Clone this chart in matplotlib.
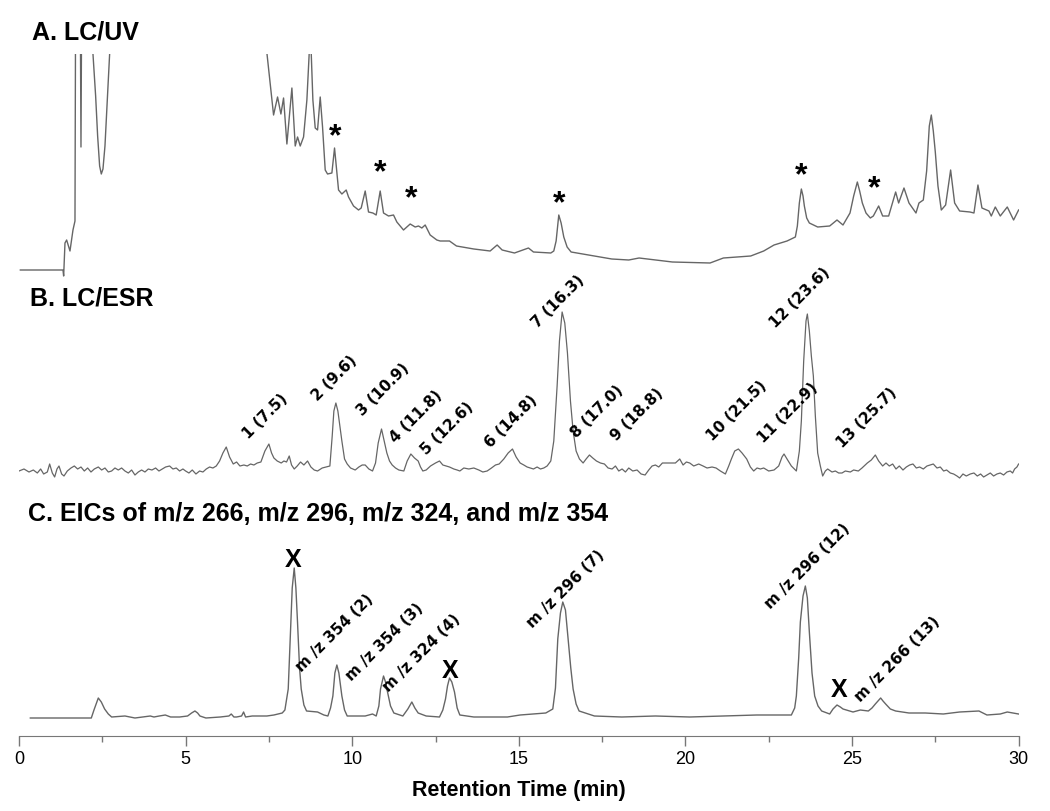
import matplotlib.pyplot as plt
from matplotlib.ticker import MultipleLocator

# --- traces (retention time in min, relative signal) ---
uv_time = [0.04, 1.32, 1.34, 1.38, 1.43, 1.53, 1.62, 1.68, 1.71, 1.82, 1.86, 1.90,
           2.20, 2.22, 2.30, 2.36, 2.42, 2.47, 2.52, 2.58, 2.65, 2.72, 2.74,
           7.40, 7.44, 7.64, 7.76, 7.86, 7.94, 8.04, 8.19, 8.29, 8.36, 8.44, 8.54,
           8.64, 8.71, 8.73, 8.76, 8.77, 8.82, 8.89, 8.96, 9.04, 9.11, 9.19, 9.26,
           9.39, 9.47, 9.54, 9.59, 9.69, 9.82, 9.89, 10.04, 10.19, 10.27, 10.39,
           10.49, 10.62, 10.72, 10.84, 10.94, 11.09, 11.24, 11.34, 11.54, 11.74,
           11.89, 11.99, 12.09, 12.19, 12.34, 12.54, 12.64, 12.92, 13.13, 13.65,
           14.14, 14.35, 14.50, 14.87, 15.29, 15.44, 15.96, 16.05, 16.12, 16.20,
           16.27, 16.35, 16.45, 16.57, 17.09, 17.79, 18.30, 18.61, 19.61, 20.74,
           21.14, 21.96, 22.35, 22.66, 23.05, 23.30, 23.36, 23.42, 23.48, 23.53,
           23.57, 23.64, 23.72, 23.97, 24.33, 24.55, 24.73, 24.94, 25.05, 25.16,
           25.23, 25.31, 25.42, 25.55, 25.64, 25.80, 25.92, 26.10, 26.31, 26.40,
           26.56, 26.71, 26.92, 27.01, 27.14, 27.24, 27.32, 27.38, 27.44, 27.50,
           27.58, 27.68, 27.81, 27.96, 28.08, 28.23, 28.54, 28.66, 28.78, 28.90,
           29.11, 29.18, 29.30, 29.45, 29.66, 29.85, 29.91, 30.00]
uv_signal = [1, 1, -5, 28, 31, 20, 41, 50, 400, 400, 124, 400,
             400, 217, 175, 135, 105, 97, 102, 125, 170, 217, 400,
             400, 218, 156, 174, 157, 173, 127, 183, 125, 134, 125, 134,
             171, 218, 400, 400, 218, 171, 143, 141, 174, 144, 101, 97,
             98, 123, 99, 81, 77, 81, 74, 65, 61, 63, 80,
             59, 58, 56, 80, 58, 55, 56, 49, 41, 47,
             44, 45, 43, 46, 36, 31, 30, 30, 25, 22,
             20, 26, 21, 18, 23, 19, 18, 20, 30, 56,
             48, 34, 24, 19, 16, 12, 11, 13, 9, 8,
             13, 15, 20, 26, 30, 34, 45, 68, 82, 75,
             65, 53, 48, 44, 45, 51, 46, 58, 75, 89,
             80, 68, 58, 53, 55, 65, 55, 55, 79, 68,
             83, 68, 58, 68, 71, 100, 145, 156, 140, 119,
             85, 61, 66, 101, 68, 60, 59, 58, 86, 63,
             60, 55, 64, 55, 64, 51, 55, 61]

esr_time = [0.00, 0.15, 0.30, 0.43, 0.55, 0.65, 0.74, 0.85, 0.92, 1.00, 1.07, 1.14,
            1.20, 1.28, 1.35, 1.45, 1.56, 1.66, 1.76, 1.86, 1.96, 2.06, 2.16, 2.26,
            2.38, 2.48, 2.58, 2.68, 2.78, 2.88, 2.98, 3.08, 3.18, 3.28, 3.38, 3.48,
            3.58, 3.68, 3.78, 3.88, 3.99, 4.10, 4.20, 4.30, 4.40, 4.52, 4.62, 4.72,
            4.82, 4.92, 5.00, 5.10, 5.20, 5.31, 5.42, 5.52, 5.62, 5.72, 5.82, 5.92,
            6.02, 6.12, 6.22, 6.32, 6.43, 6.53, 6.63, 6.75, 6.85, 6.95, 7.05, 7.15,
            7.26, 7.38, 7.50, 7.58, 7.65, 7.75, 7.87, 7.95, 8.03, 8.11, 8.18, 8.26,
            8.35, 8.45, 8.55, 8.66, 8.76, 8.86, 8.96, 9.10, 9.22, 9.33, 9.40, 9.45,
            9.51, 9.57, 9.63, 9.69, 9.77, 9.85, 9.95, 10.09, 10.20, 10.30, 10.39,
            10.50, 10.61, 10.70, 10.78, 10.88, 10.96, 11.04, 11.12, 11.20, 11.30,
            11.40, 11.55, 11.65, 11.76, 11.87, 11.98, 12.05, 12.12, 12.22, 12.35,
            12.50, 12.62, 12.72, 12.82, 12.92, 13.05, 13.15, 13.23, 13.35, 13.50,
            13.65, 13.80, 13.92, 14.05, 14.18, 14.30, 14.41, 14.55, 14.68, 14.81,
            14.92, 15.04, 15.15, 15.25, 15.35, 15.44, 15.55, 15.65, 15.75, 15.85,
            15.96, 16.05, 16.15, 16.22, 16.30, 16.38, 16.46, 16.55, 16.63, 16.72,
            16.82, 16.93, 17.02, 17.12, 17.22, 17.33, 17.45, 17.57, 17.68, 17.80,
            17.90, 18.00, 18.10, 18.20, 18.30, 18.42, 18.55, 18.67, 18.79, 18.90,
            19.00, 19.10, 19.20, 19.31, 19.45, 19.60, 19.70, 19.83, 19.93, 20.03,
            20.13, 20.25, 20.40, 20.53, 20.65, 20.80, 20.92, 21.05, 21.20, 21.30,
            21.38, 21.48, 21.59, 21.70, 21.84, 21.95, 22.05, 22.15, 22.25, 22.35,
            22.50, 22.66, 22.80, 22.90, 22.96, 23.05, 23.18, 23.27, 23.33, 23.42,
            23.48, 23.55, 23.62, 23.66, 23.72, 23.78, 23.84, 23.90, 23.97, 24.05,
            24.12, 24.20, 24.27, 24.40, 24.50, 24.60, 24.70, 24.80, 24.95, 25.05,
            25.19, 25.30, 25.46, 25.58, 25.70, 25.80, 25.92, 26.02, 26.12, 26.22,
            26.32, 26.42, 26.53, 26.63, 26.73, 26.83, 26.93, 27.03, 27.14, 27.25,
            27.35, 27.44, 27.55, 27.65, 27.75, 27.84, 27.95, 28.05, 28.15, 28.23,
            28.33, 28.43, 28.55, 28.66, 28.76, 28.86, 28.95, 29.05, 29.15, 29.25,
            29.35, 29.45, 29.55, 29.65, 29.75, 29.82, 29.88, 29.95, 30.00]
esr_signal = [0, 2, -1, 1, -2, 2, -3, -1, 7, -2, -6, 2,
              5, -3, -5, 0, 3, 5, 2, 4, 0, 3, -1, 2,
              4, 1, 3, -1, 0, 3, 1, 3, 0, -2, 1, -4,
              -1, 1, -1, 2, 1, 3, 0, 2, 4, 5, 2, 3,
              0, 2, 0, -2, 1, -3, 0, -1, 2, 4, 3, 5,
              10, 18, 24, 14, 7, 9, 5, 6, 5, 7, 6, 8,
              9, 20, 27, 18, 13, 10, 8, 10, 9, 15, 6, 2,
              5, 9, 6, 10, 4, 1, 0, 3, 4, 5, 35, 60,
              68, 60, 45, 30, 12, 7, 3, 1, 4, 6, 6,
              2, 0, 8, 28, 42, 30, 18, 10, 6, 3,
              1, 0, 10, 17, 13, 10, 4, 0, 1, 5,
              8, 10, 6, 5, 4, 2, 1, 0, 3, 2,
              3, 1, -1, 0, 3, 6, 7, 12, 18, 22,
              14, 8, 6, 4, 3, 2, 4, 2, 3, 5,
              10, 30, 85, 130, 159, 148, 118, 70, 40, 20,
              12, 8, 12, 16, 13, 10, 8, 7, 3, 2,
              5, 0, 2, -1, 3, 0, 1, -3, -4, 1,
              5, 6, 4, 8, 8, 8, 8, 12, 6, 9,
              8, 5, 7, 5, 3, 4, 3, 0, -3, 5,
              12, 20, 22, 18, 12, 4, 0, 3, 2, 3,
              0, 1, 5, 14, 17, 12, 5, 2, 0, 20,
              50, 110, 150, 157, 140, 115, 95, 55, 18, 5,
              -5, 0, 2, -1, 0, -2, -2, 0, -1, 1,
              0, 3, 8, 11, 16, 10, 5, 8, 5, 7,
              2, 5, 1, 4, 6, 7, 3, 4, 2, 5,
              6, 7, 3, 4, 0, 1, -2, -3, -5, -7,
              -3, -5, -3, -2, -5, -3, -6, -4, -2, -5,
              -3, -2, -4, -1, 0, -2, 2, 4, 7]

eic_time = [0.34, 2.17, 2.25, 2.38, 2.47, 2.57, 2.68, 2.78, 3.18, 3.48, 3.94, 4.05,
            4.21, 4.39, 4.55, 4.82, 5.06, 5.18, 5.28, 5.36, 5.43, 5.61, 6.04, 6.30,
            6.37, 6.45, 6.53, 6.68, 6.74, 6.80, 7.00, 7.44, 7.65, 7.90, 7.98, 8.08,
            8.13, 8.20, 8.26, 8.31, 8.36, 8.42, 8.47, 8.55, 8.63, 8.96, 9.15, 9.27,
            9.35, 9.42, 9.48, 9.54, 9.60, 9.69, 9.77, 9.85, 10.39, 10.61, 10.72,
            10.80, 10.85, 10.94, 11.00, 11.06, 11.15, 11.25, 11.52, 11.67, 11.79,
            11.88, 11.98, 12.22, 12.62, 12.72, 12.80, 12.86, 12.92, 12.99, 13.07,
            13.15, 13.23, 13.65, 14.66, 15.04, 15.81, 16.02, 16.10, 16.17, 16.25,
            16.32, 16.40, 16.48, 16.56, 16.63, 16.72, 16.81, 17.27, 18.09, 19.10,
            20.13, 22.14, 23.18, 23.28, 23.33, 23.40, 23.45, 23.53, 23.60, 23.66,
            23.72, 23.80, 23.88, 23.98, 24.09, 24.33, 24.43, 24.55, 24.65, 24.73,
            25.03, 25.25, 25.49, 25.60, 25.70, 25.86, 25.93, 26.01, 26.15, 26.31,
            26.71, 27.20, 27.74, 28.23, 28.81, 29.05, 29.45, 29.66, 30.00]
eic_signal = [0, 0, 8, 20, 16, 9, 4, 1, 2, 0, 2, 1,
              2, 3, 1, 1, 2, 5, 7, 5, 2, 0, 1, 2,
              4, 1, 1, 2, 6, 1, 2, 2, 3, 5, 8, 29,
              70, 130, 150, 130, 95, 50, 29, 13, 7, 6, 3, 2,
              10, 22, 45, 53, 45, 22, 8, 2, 2, 4, 2,
              12, 29, 42, 36, 26, 12, 5, 2, 9, 16,
              10, 5, 2, 1, 8, 19, 32, 40, 36, 26,
              10, 3, 1, 1, 3, 5, 9, 30, 79, 105,
              116, 108, 79, 50, 29, 14, 7, 2, 1, 2,
              1, 3, 3, 10, 22, 60, 96, 122, 132, 120,
              86, 45, 22, 12, 7, 4, 9, 13, 11, 9,
              6, 8, 7, 10, 14, 20, 17, 14, 9, 7,
              5, 5, 4, 6, 7, 3, 4, 6, 4]

# --- annotations ---
star_time = [9.49, 10.84, 11.77, 16.20, 23.48, 25.67]
star_height = [139, 103, 77, 72, 100, 87]

esr_labels = ['1 (7.5)', '2 (9.6)', '3 (10.9)', '4 (11.8)', '5 (12.6)', '6 (14.8)',
              '7 (16.3)', '8 (17.0)', '9 (18.8)', '10 (21.5)', '11 (22.9)',
              '12 (23.6)', '13 (25.7)']
esr_label_time = [6.89, 8.96, 10.30, 11.31, 12.22, 14.14, 15.56, 16.72, 17.94,
                  20.83, 22.35, 22.72, 24.73]
esr_label_height = [31, 69, 54, 27, 15, 22, 142, 32, 29, 29, 27, 142, 22]

eic_labels = ['m /z 354 (2)', 'm /z 354 (3)', 'm /z 324 (4)', 'm /z 296 (7)',
              'm /z 296 (12)', 'm /z 266 (13)']
eic_label_time = [8.49, 9.99, 11.09, 15.41, 22.57, 25.25]
eic_label_height = [45, 36, 25, 89, 108, 15]

x_time = [8.24, 12.94, 24.62]
x_height = [151, 40, 21]

W, H = 1050, 811
X0, X1 = 19, 1018.6
trace_color = '#666666'
title_font = dict(family='Liberation Sans', fontsize=18, fontweight='bold')
label_font = dict(family='DejaVu Sans', fontsize=11, fontweight='bold')

fig = plt.figure(figsize=(W / 100, H / 100), dpi=100)


def panel(top, bottom, base):
    ax = fig.add_axes([X0 / W, 1 - bottom / H, (X1 - X0) / W, (bottom - top) / H])
    ax.set_xlim(0, 30)
    ax.set_ylim(base - bottom, base - top)
    for s in ax.spines.values():
        s.set_visible(False)
    ax.set_xticks([])
    ax.set_yticks([])
    return ax


ax_a = panel(54, 280, 271)
ax_b = panel(300, 481, 471)
ax_c = panel(540, 736, 718)

ax_a.plot(uv_time, uv_signal, color=trace_color, lw=1.0)
ax_b.plot(esr_time, esr_signal, color=trace_color, lw=0.9)
ax_c.plot(eic_time, eic_signal, color=trace_color, lw=1.0)

# asterisks over the UV peaks that match ESR peaks
for t, h in zip(star_time, star_height):
    ax_a.annotate('*', (t, h), xytext=(0, -9.6), textcoords='offset points',
                  ha='center', va='baseline', family='Liberation Sans',
                  fontsize=23, fontweight='bold')

for s, t, h in zip(esr_labels, esr_label_time, esr_label_height):
    ax_b.text(t, h, s, rotation=45, rotation_mode='anchor', ha='left',
              va='baseline', **label_font)

for s, t, h in zip(eic_labels, eic_label_time, eic_label_height):
    ax_c.text(t, h, s, rotation=45, rotation_mode='anchor', ha='left',
              va='baseline', **label_font)

for t, h in zip(x_time, x_height):
    ax_c.text(t, h, 'X', ha='center', va='baseline', **title_font)

# bottom time axis
ax_c.spines['bottom'].set_visible(True)
ax_c.spines['bottom'].set_color('#777777')
ax_c.xaxis.set_major_locator(MultipleLocator(5))
ax_c.xaxis.set_minor_locator(MultipleLocator(2.5))
ax_c.tick_params(axis='x', which='major', direction='out', length=7, width=1,
                 color='#777777', pad=4, labelsize=13)
ax_c.tick_params(axis='x', which='minor', direction='out', length=4, width=1,
                 color='#777777')
for lab in ax_c.get_xticklabels():
    lab.set_family('Liberation Sans')

fig.text(32 / W, 1 - 40 / H, 'A. LC/UV', ha='left', va='baseline', **title_font)
fig.text(30 / W, 1 - 305 / H, 'B. LC/ESR', ha='left', va='baseline', **title_font)
fig.text(28 / W, 1 - 521 / H, 'C. EICs of m/z 266, m/z 296, m/z 324, and m/z 354',
         ha='left', va='baseline', **title_font)
fig.text((X0 + X1) / 2 / W, 1 - 796 / H, 'Retention Time (min)', ha='center',
         va='baseline', family='Liberation Sans', fontsize=15.5, fontweight='bold')

fig.savefig('out.png', dpi=100)
